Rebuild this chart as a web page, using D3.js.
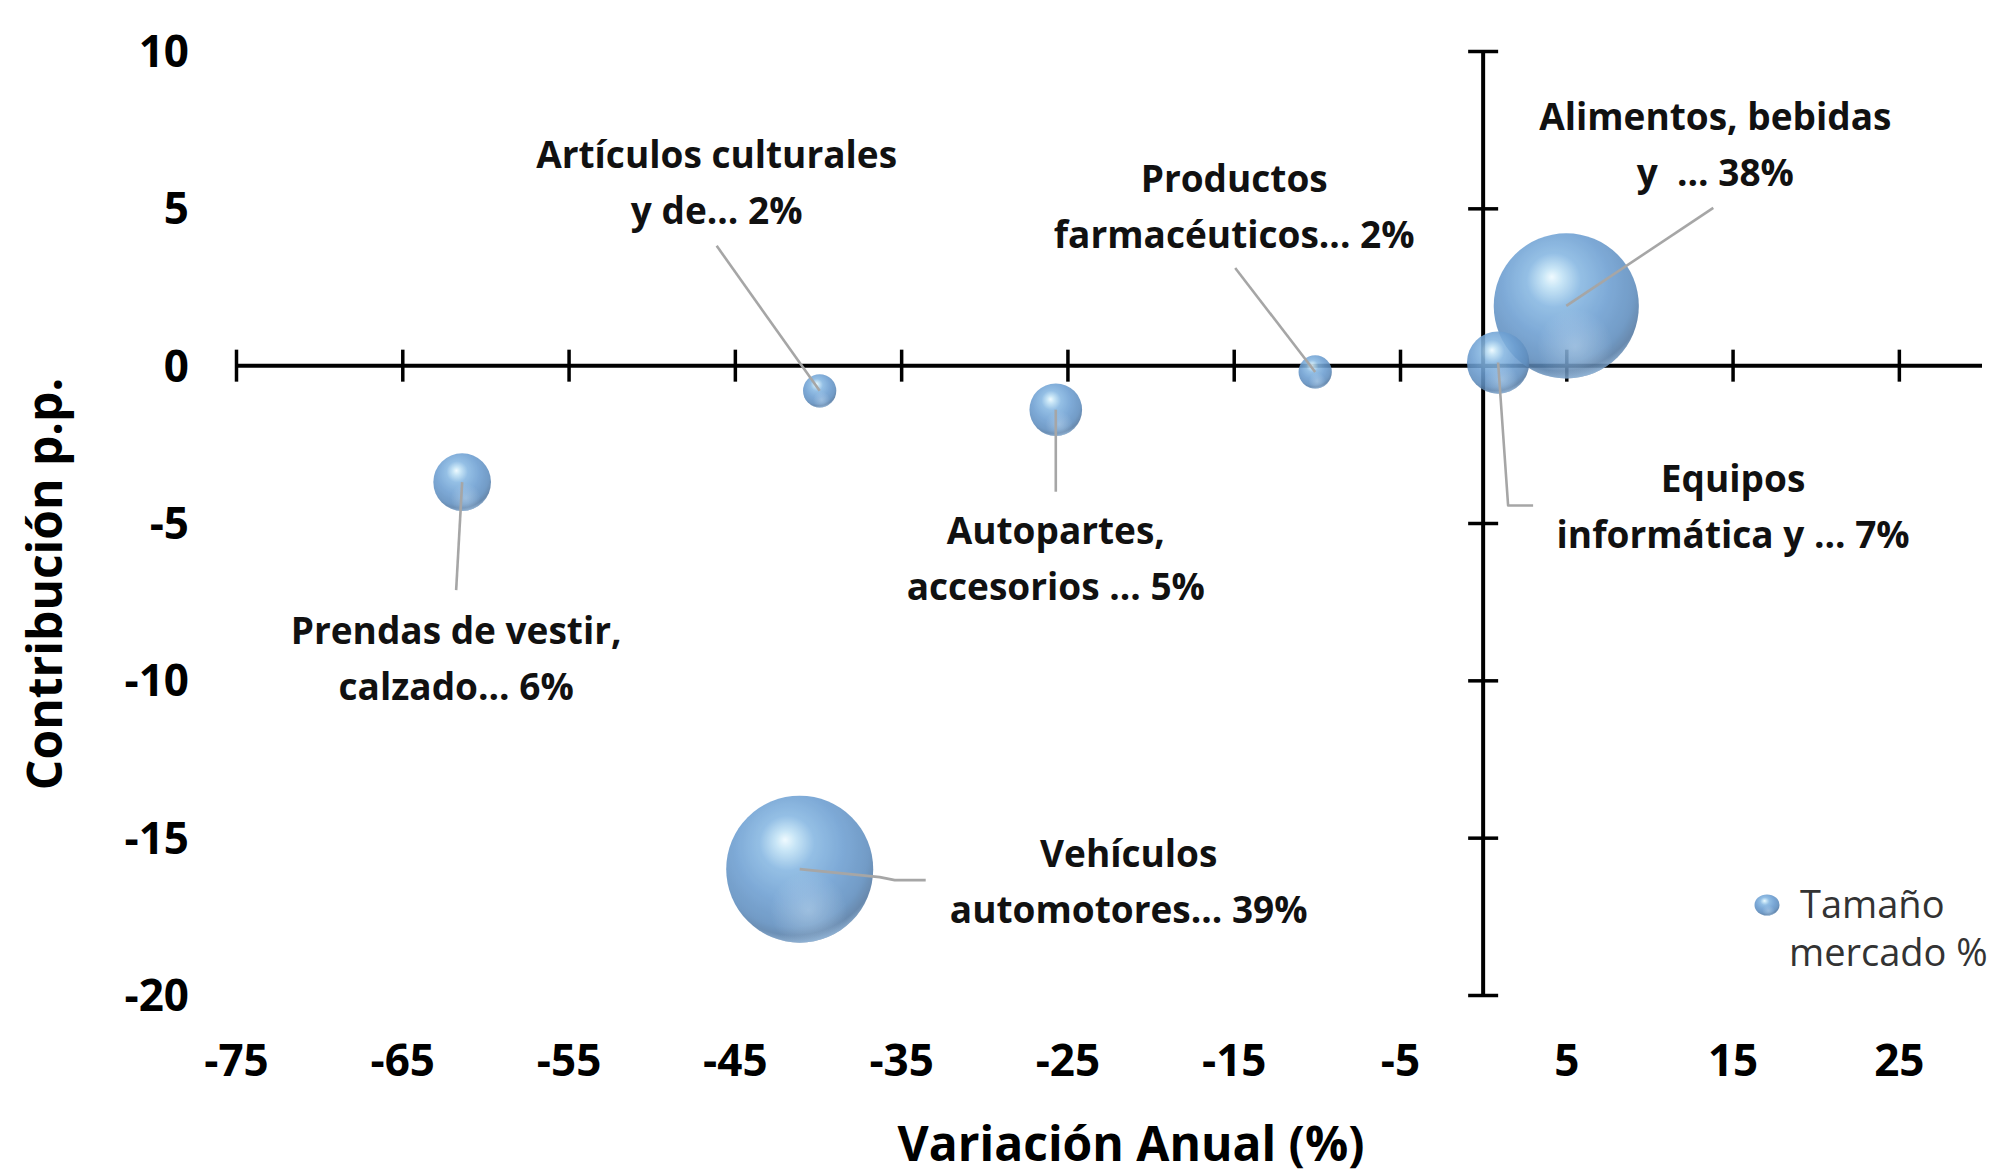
<!DOCTYPE html>
<html>
<head>
<meta charset="utf-8">
<script src="https://cdn.jsdelivr.net/npm/d3@7"></script>
<style>
  html, body { margin: 0; padding: 0; background: #ffffff; }
  svg { display: block; font-family: "Open Sans", "Noto Sans", sans-serif; }
</style>
</head>
<body>
<svg id="chart" width="1998" height="1176"></svg>
<script>
// ---------------- DATA ----------------
const categories = [
  "Prendas de vestir, calzado",
  "Artículos culturales y de",
  "Autopartes, accesorios",
  "Productos farmacéuticos",
  "Equipos informática y",
  "Alimentos, bebidas y",
  "Vehículos automotores"
];
const variacionAnual = [-61.4, -39.9, -25.7, -10.1, 0.9, 5.0, -41.1];   // x (%)
const contribucion   = [-3.7, -0.8, -1.4, -0.2, 0.1, 1.9, -16.0];      // y (p.p.)
const tamanoMercado  = [6, 2, 5, 2, 7, 38, 39];                          // bubble size (%)
const labelLines = [
  ["Prendas de vestir,", "calzado... 6%"],
  ["Artículos culturales", "y de... 2%"],
  ["Autopartes,", "accesorios ... 5%"],
  ["Productos", "farmacéuticos... 2%"],
  ["Equipos", "informática y ... 7%"],
  ["Alimentos, bebidas", "y  ... 38%"],
  ["Vehículos", "automotores... 39%"]
];
const xTickValues = [-75, -65, -55, -45, -35, -25, -15, -5, 5, 15, 25];
const yTickValues = [10, 5, 0, -5, -10, -15, -20];
const xTitle = "Variación Anual (%)";
const yTitle = "Contribución p.p.";
const legendLines = ["Tamaño", "mercado %"];

// ---------------- LAYOUT (pixel offsets relative to bubble centre) ----------------
const labelLayout = [
  { lx: -6,   ly: 149, leader: [[0,0],[-6,108]] },
  { lx: -103, ly: -236, leader: [[0,0],[-103,-145]] },
  { lx: 0,    ly: 121, leader: [[0,0],[0,82]] },
  { lx: -81,  ly: -193, leader: [[0,0],[-80,-104]] },
  { lx: 235,  ly: 117, leader: [[0,0],[10,143],[35,143]] },
  { lx: 149,  ly: -189, leader: [[0,0],[147,-98]] },
  { lx: 329,  ly: -15, leader: [[0,0],[80,8],[95,11],[126,11]] }
];

const svg = d3.select("#chart");

const x = d3.scaleLinear().domain([-75, 30]).range([236, 1982]);
const y = d3.scaleLinear().domain([-20, 10]).range([995, 51]);
const r = d3.scaleSqrt().domain([0, 39]).range([0, 73.5]);
const fmt = d => String(d);   // plain hyphen-minus like the original

// ---------------- GRADIENTS ----------------
const defs = svg.append("defs");
const g1 = defs.append("radialGradient").attr("id", "sphere")
  .attr("cx", 0.45).attr("cy", 0.38).attr("r", 0.66).attr("fx", 0.4).attr("fy", 0.3);
[[0, "#eefaff"], [0.1, "#c2e3f6"], [0.28, "#86b7e2"], [0.55, "#6d9fd2"], [0.8, "#5f8ebf"], [0.93, "#52769e"], [1, "#4a6688"]]
  .forEach(([o, c]) => g1.append("stop").attr("offset", o).attr("stop-color", c));

const g2 = defs.append("radialGradient").attr("id", "reflect")
  .attr("cx", 0.56).attr("cy", 0.78).attr("r", 0.26);
[[0, "#cfe6f8", 0.4], [1, "#cfe6f8", 0]]
  .forEach(([o, c, a]) => g2.append("stop").attr("offset", o).attr("stop-color", c).attr("stop-opacity", a));

const g3 = defs.append("radialGradient").attr("id", "rim")
  .attr("cx", 0.46).attr("cy", 0.34).attr("r", 0.7);
[[0, "#9fcaf2", 0], [0.87, "#9fcaf2", 0], [0.96, "#9fcaf2", 0.7], [1, "#9fcaf2", 0.25]]
  .forEach(([o, c, a]) => g3.append("stop").attr("offset", o).attr("stop-color", c).attr("stop-opacity", a));

// ---------------- AXES ----------------
const axisColor = "#000000";

const xAxisG = svg.append("g").attr("transform", `translate(0,${y(0)})`)
  .call(d3.axisBottom(x).tickValues(xTickValues).tickSizeOuter(0).tickSize(32).tickFormat(""));
xAxisG.select(".domain").attr("stroke", axisColor).attr("stroke-width", 4).attr("d", `M${x(-75)},0H${x(30)}`);
xAxisG.selectAll(".tick line").attr("stroke", axisColor).attr("stroke-width", 3.5).attr("y1", -16).attr("y2", 16);

const yAxisG = svg.append("g").attr("transform", `translate(${x(0)},0)`)
  .call(d3.axisLeft(y).tickValues(yTickValues).tickSizeOuter(0).tickSize(28).tickFormat(""));
yAxisG.select(".domain").attr("stroke", axisColor).attr("stroke-width", 4).attr("d", `M0,${y(10)}V${y(-20)}`);
yAxisG.selectAll(".tick line").attr("stroke", axisColor).attr("stroke-width", 3.5).attr("x1", -15).attr("x2", 15);

const yLab = svg.append("g").attr("transform", "translate(189,0)")
  .call(d3.axisLeft(y).tickValues(yTickValues).tickSize(0).tickPadding(0).tickFormat(fmt));
yLab.select(".domain").remove();
yLab.selectAll("text").attr("font-size", 44).attr("font-weight", 700).attr("fill", "#000")
  .attr("font-family", "'Open Sans', sans-serif").attr("dy", "0.35em");

const xLab = svg.append("g").attr("transform", "translate(0,1061)")
  .call(d3.axisBottom(x).tickValues(xTickValues).tickSize(0).tickPadding(0).tickFormat(fmt));
xLab.select(".domain").remove();
xLab.selectAll("text").attr("font-size", 44).attr("font-weight", 700).attr("fill", "#000")
  .attr("font-family", "'Open Sans', sans-serif").attr("dy", "0.35em");

svg.append("text").attr("x", 1131).attr("y", 1144).attr("dy", "0.35em")
  .attr("text-anchor", "middle").attr("font-size", 48).attr("font-weight", 700).attr("fill", "#000")
  .text(xTitle);
svg.append("text").attr("transform", "translate(45,584) rotate(-90)").attr("dy", "0.35em")
  .attr("text-anchor", "middle").attr("font-size", 48).attr("font-weight", 700).attr("fill", "#000")
  .text(yTitle);

// ---------------- BUBBLES ----------------
const data = categories.map((c, i) => ({
  cat: c, vx: variacionAnual[i], vy: contribucion[i], size: tamanoMercado[i],
  lines: labelLines[i], layout: labelLayout[i]
}));

function drawSphere(g, rx, ry) {
  g.append("ellipse").attr("rx", rx).attr("ry", ry).attr("fill", "url(#sphere)");
  g.append("ellipse").attr("rx", rx).attr("ry", ry).attr("fill", "url(#reflect)");
  g.append("ellipse").attr("rx", rx).attr("ry", ry).attr("fill", "url(#rim)");
}

const bubbles = svg.append("g").selectAll("g")
  .data(data.slice().sort((a, b) => b.size - a.size))
  .join("g")
  .attr("transform", d => `translate(${x(d.vx)},${y(d.vy)})`)
  .attr("opacity", 0.88);
bubbles.each(function(d) { drawSphere(d3.select(this), r(d.size), r(d.size)); });

// ---------------- LEADER LINES & LABELS ----------------
const line = d3.line().curve(d3.curveLinear);
svg.append("g").selectAll("path")
  .data(data)
  .join("path")
  .attr("d", d => line(d.layout.leader.map(([dx, dy]) => [x(d.vx) + dx, y(d.vy) + dy])))
  .attr("fill", "none").attr("stroke", "#a6a6a6").attr("stroke-width", 2.6)
  .attr("stroke-linejoin", "round");

const labels = svg.append("g").selectAll("text")
  .data(data)
  .join("text")
  .attr("text-anchor", "middle").attr("font-size", 37).attr("font-weight", 700).attr("fill", "#111");
labels.each(function(d) {
  const t = d3.select(this);
  d.lines.forEach((ln, k) => {
    t.append("tspan")
      .attr("x", x(d.vx) + d.layout.lx)
      .attr("y", y(d.vy) + d.layout.ly + k * 56)
      .attr("dy", "0.35em")
      .attr("xml:space", "preserve")
      .text(ln);
  });
});

// ---------------- LEGEND ----------------
const leg = svg.append("g").attr("transform", "translate(1767,905)");
drawSphere(leg.append("g").attr("opacity", 0.9), 12.5, 10.5);
leg.append("text").attr("x", 33).attr("y", 13).attr("font-size", 38).attr("fill", "#333")
  .text(legendLines[0]);
leg.append("text").attr("x", 22).attr("y", 61).attr("font-size", 38).attr("fill", "#333")
  .text(legendLines[1]);
</script>
</body>
</html>
